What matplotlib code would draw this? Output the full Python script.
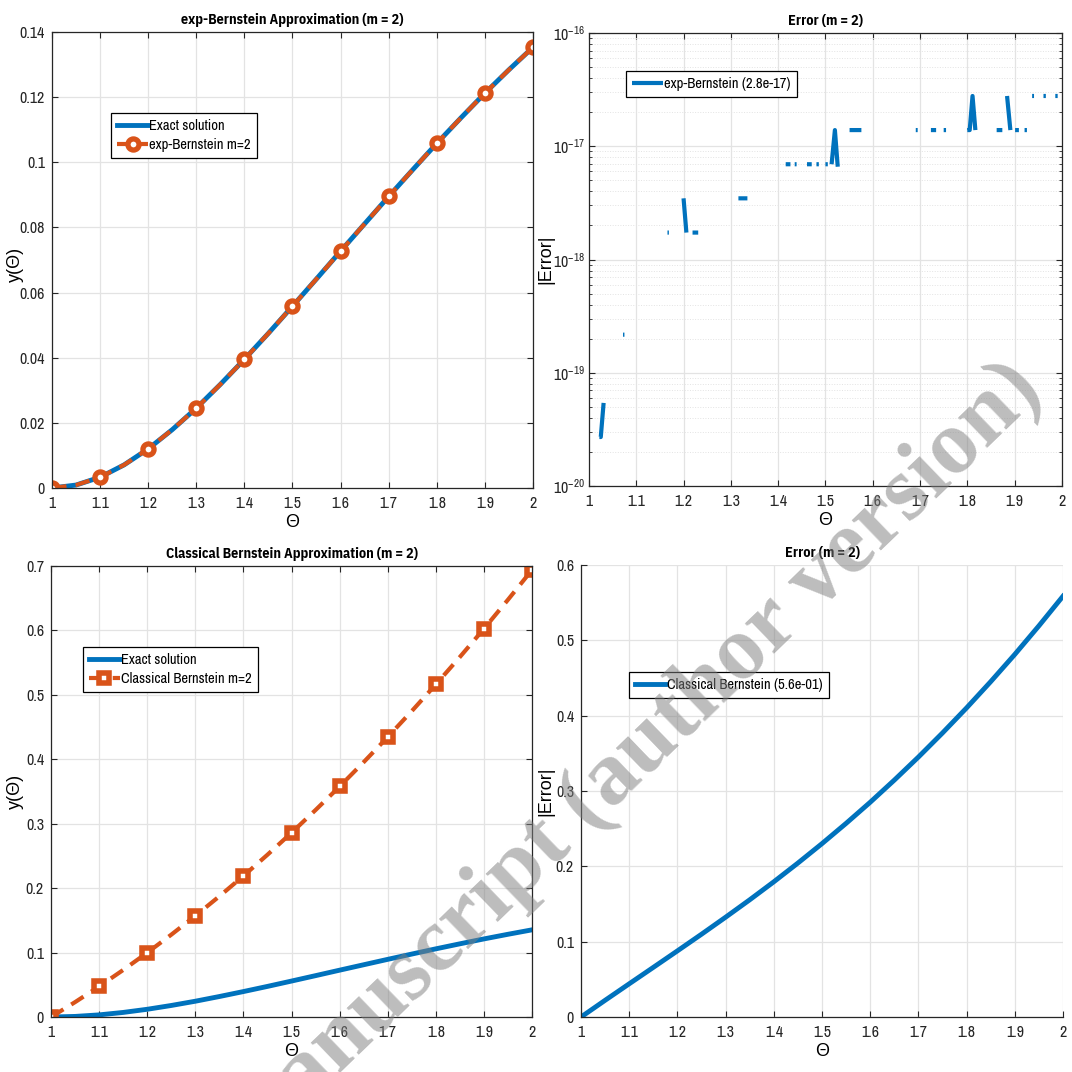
import matplotlib
matplotlib.use("Agg")
import numpy as np
import matplotlib.pyplot as plt
from matplotlib.ticker import FuncFormatter, FixedLocator

# values
theta = [1.00, 1.05, 1.10, 1.15, 1.20, 1.25, 1.30, 1.35, 1.40, 1.45, 1.50,
         1.55, 1.60, 1.65, 1.70, 1.75, 1.80, 1.85, 1.90, 1.95, 2.00]
exact = [0.0, 0.0009, 0.0033, 0.0071, 0.0120, 0.0179, 0.0245, 0.0318, 0.0395, 0.0475, 0.0558,
         0.0642, 0.0727, 0.0811, 0.0895, 0.0977, 0.1058, 0.1136, 0.1212, 0.1284, 0.1353]
exp_bern = [0.0, 0.0009, 0.0033, 0.0071, 0.0120, 0.0179, 0.0245, 0.0318, 0.0395, 0.0475, 0.0558,
            0.0642, 0.0727, 0.0811, 0.0895, 0.0977, 0.1058, 0.1136, 0.1212, 0.1284, 0.1353]
classical = [0.0, 0.0231, 0.0474, 0.0730, 0.0998, 0.1278, 0.1570, 0.1874, 0.2190, 0.2519, 0.2860,
             0.3213, 0.3578, 0.3956, 0.4346, 0.4748, 0.5162, 0.5588, 0.6026, 0.6477, 0.6940]
classical_err = [0.0, 0.0222, 0.0441, 0.0659, 0.0878, 0.1099, 0.1325, 0.1556, 0.1795, 0.2044, 0.2302,
                 0.2571, 0.2851, 0.3145, 0.3451, 0.3771, 0.4104, 0.4452, 0.4814, 0.5193, 0.5587]

# round-off error of exp-Bernstein, nan = exact zero (not shown on log axis)
nan = np.nan
exp_err_theta = [1.022, 1.025, 1.031, nan, 1.072, 1.075, nan, 1.166, 1.169, nan,
                 1.200, 1.206, nan, 1.219, 1.231, nan, 1.316, 1.335, nan,
                 1.416, 1.426, nan, 1.435, 1.439, nan, 1.461, 1.471, nan, 1.481, 1.486, nan,
                 1.500, 1.505, nan, 1.513, 1.520, 1.526, nan, 1.551, 1.576, nan,
                 1.691, 1.695, nan, 1.723, 1.734, nan, 1.750, 1.755, nan,
                 1.800, 1.805, 1.811, 1.817, nan, 1.862, 1.874, nan, 1.884, 1.891, nan,
                 1.901, 1.909, nan, 1.921, 1.926, nan,
                 1.937, 1.941, nan, 1.961, 1.966, nan, 1.986, 1.991]
exp_err_vals = [2.71e-20, 2.71e-20, 5.42e-20, nan, 2.17e-19, 2.17e-19, nan, 1.73e-18, 1.73e-18, nan,
                3.47e-18, 1.73e-18, nan, 1.73e-18, 1.73e-18, nan, 3.47e-18, 3.47e-18, nan,
                6.94e-18, 6.94e-18, nan, 6.94e-18, 6.94e-18, nan, 6.94e-18, 6.94e-18, nan, 6.94e-18, 6.94e-18, nan,
                6.94e-18, 6.94e-18, nan, 6.94e-18, 1.39e-17, 6.6e-18, nan, 1.39e-17, 1.39e-17, nan,
                1.39e-17, 1.39e-17, nan, 1.39e-17, 1.39e-17, nan, 1.39e-17, 1.39e-17, nan,
                1.39e-17, 1.39e-17, 2.78e-17, 1.39e-17, nan, 1.39e-17, 1.39e-17, nan, 2.78e-17, 1.39e-17, nan,
                1.39e-17, 1.39e-17, nan, 1.39e-17, 1.39e-17, nan,
                2.78e-17, 2.78e-17, nan, 2.78e-17, 2.78e-17, nan, 2.78e-17, 2.78e-17]

x_ticks = [1.0, 1.1, 1.2, 1.3, 1.4, 1.5, 1.6, 1.7, 1.8, 1.9, 2.0]
x_tick_labels = ["1", "1.1", "1.2", "1.3", "1.4", "1.5", "1.6", "1.7", "1.8", "1.9", "2"]

BLUE = "#0072BD"
ORANGE = "#D95319"
TXT = "#262626"
FONT = ['Archivo Narrow', 'IBM Plex Sans Condensed', 'Liberation Sans', 'DejaVu Sans']
TITLE_FONT = ['IBM Plex Sans Condensed', 'Liberation Sans', 'DejaVu Sans']
YLAB_FONT = ['Liberation Sans', 'DejaVu Sans']

plt.rcParams['font.family'] = FONT
plt.rcParams['mathtext.fontset'] = 'custom'
plt.rcParams['mathtext.rm'] = 'Archivo Narrow'
plt.rcParams['mathtext.it'] = 'Archivo Narrow:italic'
plt.rcParams['mathtext.bf'] = 'IBM Plex Sans Condensed:bold'
plt.rcParams['font.size'] = 11
plt.rcParams['axes.edgecolor'] = TXT
plt.rcParams['xtick.color'] = TXT
plt.rcParams['ytick.color'] = TXT


def style_axes(ax, box=True):
    ax.set_xlim(1, 2)
    ax.xaxis.set_major_locator(FixedLocator(x_ticks))
    ax.set_xticklabels(x_tick_labels)
    ax.grid(True, which='major', color='#e3e3e3', lw=0.9)
    ax.set_axisbelow(True)
    ax.tick_params(direction='in', length=4, width=0.8, labelsize=11.5, top=box, right=box)
    ax.tick_params(axis='x', pad=6)
    ax.tick_params(axis='y', pad=5)
    ax.tick_params(which='minor', direction='in', length=2.5, width=0.6, top=box, right=box)
    for s in ax.spines.values():
        s.set_linewidth(0.9)
    if not box:
        ax.spines['top'].set_visible(False)
        ax.spines['right'].set_visible(False)
    ax.set_xlabel("Θ", fontsize=13, labelpad=2)


def leg(ax, x0, ytop):
    lg = ax.legend(loc='upper left', bbox_to_anchor=(x0, ytop), fontsize=10.5, frameon=True,
                   fancybox=False, framealpha=1, edgecolor='black', handlelength=2.1,
                   handletextpad=0.1, borderpad=0.42, labelspacing=0.3, borderaxespad=0)
    lg.get_frame().set_linewidth(0.9)


fmt = FuncFormatter(lambda v, p: "%g" % v)
fig = plt.figure(figsize=(10.72, 10.72), dpi=100)

# top-left: exp-Bernstein approximation
ax1 = fig.add_axes([0.0485, 0.5448, 0.4487, 0.4254])
ax1.plot(theta, exact, color=BLUE, lw=3.5, label="Exact solution")
ax1.plot(theta, exp_bern, color=ORANGE, lw=3.0, dashes=(3.5, 2.2), marker='o', markevery=2,
         ms=8, mfc='white', mec=ORANGE, mew=3.8, label="exp-Bernstein m=2")
style_axes(ax1)
ax1.set_ylim(0, 0.14)
ax1.set_yticks([0, 0.02, 0.04, 0.06, 0.08, 0.1, 0.12, 0.14])
ax1.yaxis.set_major_formatter(fmt)
ax1.set_ylabel("y(Θ)", fontsize=13, family=YLAB_FONT)
ax1.yaxis.set_label_coords(-0.058, 0.49)
ax1.set_title("exp-Bernstein Approximation (m = 2)", fontsize=10.2, fontweight='bold',
              family=TITLE_FONT, pad=6)
leg(ax1, 0.123, 0.822)

# top-right: error of exp-Bernstein (log)
ax2 = fig.add_axes([0.5494, 0.5466, 0.4412, 0.4226])
ax2.plot(exp_err_theta, exp_err_vals, color=BLUE, lw=3.0, solid_capstyle='butt',
         label="exp-Bernstein (2.8e-17)")
ax2.set_yscale('log')
ax2.set_ylim(1e-20, 1e-16)
style_axes(ax2)
ax2.tick_params(axis='y', pad=3)
ax2.grid(True, which='minor', axis='y', color='#e3e3e3', lw=0.7, ls=':')
ax2.set_ylabel("|Error|", fontsize=13, family=YLAB_FONT)
ax2.yaxis.set_label_coords(-0.074, 0.5)
ax2.set_title("Error (m = 2)", fontsize=10.2, fontweight='bold', family=TITLE_FONT, pad=6)
leg(ax2, 0.078, 0.916)

# bottom-left: classical Bernstein approximation
ax3 = fig.add_axes([0.0476, 0.0513, 0.4487, 0.4207])
ax3.plot(theta, exact, color=BLUE, lw=3.5, label="Exact solution")
ax3.plot(theta, classical, color=ORANGE, lw=3.0, dashes=(3.5, 2.2), marker='s', markevery=2,
         ms=7.5, mfc='white', mec=ORANGE, mew=4.0, label="Classical Bernstein m=2")
style_axes(ax3)
ax3.set_ylim(0, 0.7)
ax3.set_yticks([0, 0.1, 0.2, 0.3, 0.4, 0.5, 0.6, 0.7])
ax3.yaxis.set_major_formatter(fmt)
ax3.set_ylabel("y(Θ)", fontsize=13, family=YLAB_FONT)
ax3.yaxis.set_label_coords(-0.056, 0.5)
ax3.set_title("Classical Bernstein Approximation (m = 2)", fontsize=10.2, fontweight='bold',
              family=TITLE_FONT, pad=6)
leg(ax3, 0.0665, 0.820)

# bottom-right: error of classical Bernstein
ax4 = fig.add_axes([0.542, 0.0513, 0.4496, 0.4216])
ax4.plot(theta, classical_err, color=BLUE, lw=3.5, label="Classical Bernstein (5.6e-01)")
style_axes(ax4, box=False)
ax4.set_ylim(0, 0.6)
ax4.set_yticks([0, 0.1, 0.2, 0.3, 0.4, 0.5, 0.6])
ax4.yaxis.set_major_formatter(fmt)
ax4.set_ylabel("|Error|", fontsize=13, family=YLAB_FONT)
ax4.yaxis.set_label_coords(-0.056, 0.5)
ax4.set_title("Error (m = 2)", fontsize=10.2, fontweight='bold', family=TITLE_FONT, pad=6)
leg(ax4, 0.099, 0.763)

# watermark
fig.text(0.974, 0.634, "manuscript (author version)", family='Liberation Serif',
         fontweight='bold', fontsize=66, color='#808080', alpha=0.52, rotation=44,
         rotation_mode='anchor', ha='right', va='baseline', zorder=10)

fig.savefig("out.png", dpi=100)
